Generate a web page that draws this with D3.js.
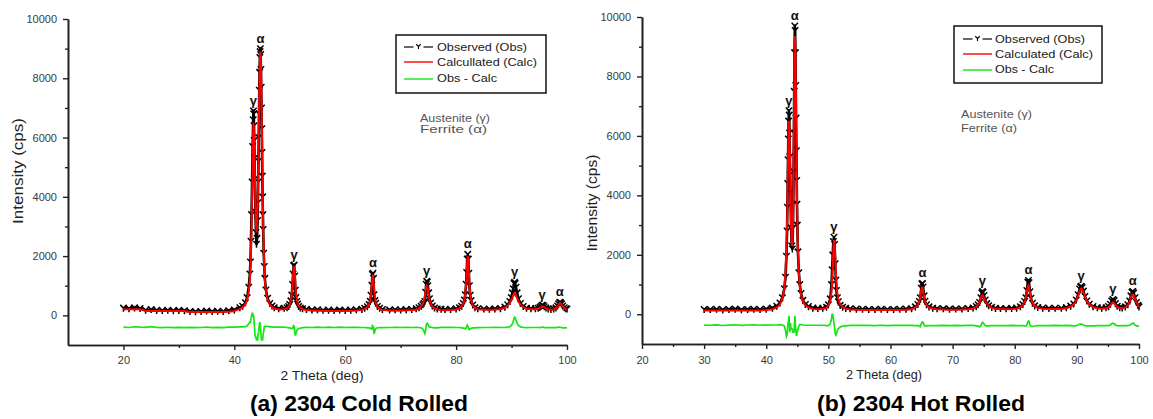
<!DOCTYPE html>
<html>
<head>
<meta charset="utf-8">
<script src="https://cdn.jsdelivr.net/npm/d3@7"></script>
<style>
  body { margin: 0; background: #fff; }
  svg { display: block; }
  text { font-family: "Liberation Sans", Arial, sans-serif; }
</style>
</head>
<body>
<svg id="chart" width="1153" height="419"></svg>
<script>
// Rietveld refinement of 2304 duplex stainless steel: [2θ (deg), observed (cps), calculated (cps)]
const coldScan = [
  [20,245,210],[21,230,210],[22,255,210],[23,235,205],[24,175,150],[25,200,150],[26,170,148],[27,165,148],
  [28,175,146],[29,160,146],[30,170,145],[31,160,145],[32,135,110],[33,125,110],[34,130,110],[35,150,112],
  [36,130,112],[37,140,114],[38,135,118],[39,160,125],[40,185,150],[41,260,220],
  [41.5,310,270],[42,430,380],[42.3,600,520],[42.6,950,800],[42.8,1400,1200],[42.9,1800,1600],[43,2500,2200],
  [43.1,3400,3000],[43.2,4500,4000],[43.3,5700,5200],[43.4,6600,6200],[43.45,6900,6500],[43.5,6800,6400],
  [43.55,6400,6150],[43.6,5900,5800],[43.65,5300,5300],[43.7,4600,4800],[43.8,3500,3800],[43.9,2800,3100],
  [44,2400,2800],[44.1,2600,3000],[44.2,3200,3600],[44.25,3800,4100],[44.3,4500,4700],[44.35,5200,5400],
  [44.4,6000,6100],[44.45,6800,6800],[44.5,7600,7500],[44.55,8200,8050],[44.6,8700,8500],[44.65,8900,8800],
  [44.7,9000,8900],[44.75,8800,8850],[44.8,8300,8500],[44.85,7700,8000],[44.9,7000,7400],[44.95,6300,6700],
  [45,5500,5900],[45.05,4700,5100],[45.1,4000,4400],[45.15,3400,3700],[45.2,2900,3100],[45.3,2100,2200],
  [45.4,1650,1600],[45.5,1250,1200],[45.7,860,800],[46,580,520],[46.4,400,360],[46.8,320,280],[47.2,260,230],
  [48,230,200],[49,240,210],
  [49.5,260,240],[49.8,300,290],[50,370,360],[50.2,490,500],[50.35,690,700],[50.5,1040,1050],[50.6,1400,1350],
  [50.7,1680,1600],[50.8,1700,1650],[50.9,1330,1450],[51,850,1100],[51.1,600,800],[51.25,470,560],
  [51.4,380,420],[51.6,300,320],[51.9,250,250],[52.3,225,210],
  [53,205,180],[54,185,165],[55,190,160],[56,175,155],[57,180,150],[58,170,150],[59,185,150],[60,170,150],
  [61,180,155],[62,190,165],[63,205,185],
  [63.5,240,220],[64,290,280],[64.3,370,360],[64.5,480,480],[64.65,680,700],[64.8,1020,1050],[64.9,1380,1300],
  [65,1420,1370],[65.1,1250,1200],[65.2,700,900],[65.35,500,600],[65.5,410,420],[65.8,300,290],[66.2,240,220],
  [66.7,200,185],
  [68,185,165],[69,190,165],[70,185,165],[71,195,170],[72,200,180],[72.8,225,200],
  [73.3,260,240],[73.7,310,300],[74,360,390],[74.2,400,500],[74.35,470,650],[74.5,780,850],[74.6,1050,960],
  [74.7,1150,1000],[74.8,1130,970],[74.9,1000,870],[75.05,760,690],[75.2,560,530],[75.4,420,390],
  [75.7,320,300],[76.1,250,240],[76.6,215,205],
  [77.3,210,185],[78,200,175],[79,205,180],[80,220,200],
  [80.6,260,240],[81,310,300],[81.3,400,400],[81.5,520,530],[81.65,700,720],[81.8,1050,1050],[81.9,1450,1400],
  [82,1900,1800],[82.1,2060,2000],[82.2,1900,1850],[82.3,1420,1450],[82.4,1000,1050],[82.55,680,700],
  [82.7,500,510],[83,350,340],[83.4,260,250],[83.9,225,210],
  [85,215,195],[86,210,190],[87,220,195],[88,230,210],
  [88.8,280,260],[89.3,360,330],[89.7,470,420],[89.95,600,510],[90.15,760,600],[90.3,900,680],[90.45,1080,740],
  [90.55,1120,750],[90.65,1080,730],[90.8,950,680],[91,760,580],[91.25,560,470],[91.6,400,360],[92.1,300,280],
  [92.7,240,225],
  [93.5,230,210],[94.3,225,205],
  [94.8,240,220],[95.1,265,250],[95.3,300,280],[95.5,340,305],[95.7,335,300],[95.9,290,275],[96.2,250,235],
  [96.6,220,205],[97.1,205,190],[97.6,215,200],
  [98,255,240],[98.3,320,300],[98.5,390,360],[98.7,440,410],[98.85,430,405],[99,390,370],[99.2,320,310],
  [99.5,260,250],[99.8,225,215],[100,215,200]
];

const hotScan = [
  [30,165,130],[31,160,130],[32,170,128],[33,150,128],[34,165,127],[35,175,127],[36,155,126],[37,165,126],
  [38,170,127],[39,160,130],[40,175,140],[41,210,170],[41.7,270,230],
  [42.2,380,330],[42.6,560,520],[42.9,860,850],[43.1,1250,1400],[43.25,1950,2300],[43.35,2800,3100],
  [43.4,3600,3800],[43.45,4400,4400],[43.5,5200,5100],[43.55,5900,5800],[43.6,6500,6300],[43.65,6850,6500],
  [43.7,6700,6450],[43.75,6100,6100],[43.8,5300,5500],[43.85,4700,4700],[43.9,4100,4000],[44,2900,3000],
  [44.1,2300,2400],[44.2,2200,2300],[44.3,2900,3100],[44.35,3700,3900],[44.4,4800,5000],[44.45,6100,6300],
  [44.5,7500,7600],[44.55,8800,8700],[44.6,9700,9350],[44.65,9550,9300],[44.7,8800,8800],[44.75,7700,7800],
  [44.8,6600,6800],[44.85,5500,5800],[44.9,4500,4800],[44.95,3700,3900],[45,3000,3200],[45.1,2100,2200],
  [45.25,1400,1400],[45.4,1000,950],[45.6,700,650],[45.9,470,430],[46.3,330,300],[46.8,260,230],[47.5,210,180],
  [48.3,200,170],[49.1,205,175],[49.7,240,220],
  [50,320,300],[50.3,520,450],[50.5,1000,750],[50.6,1500,1100],[50.7,2000,1600],[50.8,2450,2200],
  [50.9,2590,2500],[51,2350,2400],[51.1,1700,1950],[51.2,1150,1450],[51.3,800,1050],[51.45,560,700],
  [51.6,420,500],[51.9,300,330],[52.3,240,240],[52.8,200,190],
  [53.5,185,160],[54.5,175,150],[55.5,170,145],[56.5,165,140],[57.5,160,140],[58.5,170,140],[59.5,160,140],
  [60.5,165,140],[61.5,170,145],[62.5,175,150],[63.4,190,165],
  [64,250,230],[64.4,330,310],[64.65,430,430],[64.8,560,580],[64.95,880,800],[65.05,1020,890],[65.15,1040,900],
  [65.25,920,790],[65.4,620,580],[65.55,440,430],[65.8,320,310],[66.2,250,230],[66.8,205,185],
  [67.5,190,170],[68.5,185,160],[69.5,175,155],[70.5,180,155],[71.5,180,160],[72.5,195,170],[73.3,215,190],
  [73.8,260,250],[74.1,320,320],[74.35,400,420],[74.55,560,550],[74.7,720,630],[74.8,770,640],[74.9,740,620],
  [75.05,630,560],[75.25,480,460],[75.5,360,360],[75.8,290,280],[76.3,235,220],[76.9,200,185],
  [77.7,195,175],[78.6,190,170],[79.5,200,175],[80.3,210,190],
  [80.9,255,240],[81.3,330,310],[81.6,430,420],[81.8,560,560],[81.95,800,760],[82.1,1080,940],[82.2,1140,970],
  [82.3,1060,900],[82.45,760,720],[82.6,540,540],[82.85,370,380],[83.2,285,280],[83.7,230,215],
  [84.5,210,190],[85.5,200,180],[86.5,205,180],[87.5,205,185],[88.3,225,200],
  [89,275,260],[89.5,350,340],[89.9,480,460],[90.2,660,620],[90.45,850,780],[90.6,920,850],[90.7,940,870],
  [90.85,900,840],[91.05,780,740],[91.3,600,580],[91.6,450,440],[92,340,330],[92.6,260,250],[93.3,220,205],
  [94,210,190],[94.7,220,200],
  [95.1,260,240],[95.4,340,300],[95.6,450,370],[95.8,500,400],[96,460,380],[96.2,360,320],[96.5,270,250],
  [96.9,220,210],[97.3,215,200],[97.8,250,230],
  [98.2,320,300],[98.5,450,420],[98.7,620,560],[98.85,740,650],[99,770,670],[99.15,720,630],[99.35,560,520],
  [99.6,400,390],[99.85,300,300],[100,250,240]
];

// Indexed reflections: austenite (γ) and ferrite (α)
const coldPeakTheta = [43.45, 44.7, 50.8, 65.0, 74.7, 82.1, 90.55, 95.5, 98.7];
const coldPeakPhase = ["γ", "α", "γ", "α", "γ", "α", "γ", "γ", "α"];
const hotPeakTheta  = [43.65, 44.6, 50.9, 65.15, 74.8, 82.2, 90.7, 95.8, 99.0];
const hotPeakPhase  = ["γ", "α", "γ", "α", "γ", "α", "γ", "γ", "α"];

// Axis ticks
const yMajorTicks = [0, 2000, 4000, 6000, 8000, 10000];
const yMinorTicks = [1000, 3000, 5000, 7000, 9000];
const coldXMajor = [20, 40, 60, 80, 100];
const coldXMinor = [30, 50, 70, 90];
const hotXMajor = [20, 30, 40, 50, 60, 70, 80, 90, 100];
const hotXMinor = [25, 35, 45, 55, 65, 75, 85, 95];

// Text
const coldLegend = ["Observed (Obs)", "Calcullated (Calc)", "Obs - Calc"];
const hotLegend  = ["Observed (Obs)", "Calculated (Calc)", "Obs - Calc"];
const phaseNotes = ["Austenite (γ)", "Ferrite (α)"];
const panelTitles = ["(a) 2304 Cold Rolled", "(b) 2304 Hot Rolled"];
const xTitle = "2 Theta (deg)";
const yTitle = "Intensity (cps)";

// Vertical shift applied to the difference curve
const coldDiffShift = -430;
const hotDiffShift = -400;

const svg = d3.select("#chart");
svg.append("rect").attr("width", 1153).attr("height", 419).attr("fill", "#fff");

const panels = [
  {
    scan: coldScan, peaks: coldPeakTheta, phases: coldPeakPhase, legend: coldLegend, title: panelTitles[0],
    diffShift: coldDiffShift, xDomain: [10, 100], xMajor: coldXMajor, xMinor: coldXMinor,
    left: 68, right: 567, top: 19, bottom: 345, xLabelPad: 6,
    legendBox: { x: 396, y: 35, w: 150, h: 58 }, legendRows: [47, 62, 79], legendBase: [51, 66, 82],
    legendLine: [404, 433], legendTextX: 437, legendWidths: [90, 100, 60],
    notesX: 420, notesBase: [122, 133], notesWidths: [70, 67],
    yTitleX: 23, yTitleCy: 171, yTitleLen: 106,
    xTitleCx: 322, xTitleBase: 380, xTitleLen: 83,
    titleCx: 359, titleBase: 411, titleLen: 218
  },
  {
    scan: hotScan, peaks: hotPeakTheta, phases: hotPeakPhase, legend: hotLegend, title: panelTitles[1],
    diffShift: hotDiffShift, xDomain: [20, 100], xMajor: hotXMajor, xMinor: hotXMinor,
    left: 642, right: 1139, top: 17, bottom: 344, xLabelPad: 7,
    legendBox: { x: 954, y: 26, w: 148, h: 57 }, legendRows: [39, 54, 70], legendBase: [43, 58, 73],
    legendLine: [963, 992], legendTextX: 995, legendWidths: [90, 98, 59],
    notesX: 961, notesBase: [118, 132], notesWidths: [71, 56],
    yTitleX: 597, yTitleCy: 203, yTitleLen: 97,
    xTitleCx: 884, xTitleBase: 379, xTitleLen: 76,
    titleCx: 921, titleBase: 411, titleLen: 208
  }
];

// "Y"-shaped marker used for observed points
const markerPath = "M-3.2,-3.2L0,0L3.2,-3.2M0,0L0,3.6";

function drawPanel(p) {
  const x = d3.scaleLinear().domain(p.xDomain).range([p.left, p.right]);
  const y = d3.scaleLinear().domain([-1000, 10000]).range([p.bottom, p.top]);
  const g = svg.append("g");

  // Observed: connecting line + markers
  const obsLine = d3.line().x(d => x(d[0])).y(d => y(d[1]));
  g.append("path").datum(p.scan).attr("d", obsLine)
    .attr("fill", "none").attr("stroke", "#000").attr("stroke-width", 2.6)
    .attr("stroke-linejoin", "round");
  g.append("g").selectAll("path").data(p.scan).join("path")
    .attr("transform", d => `translate(${x(d[0])},${y(d[1])})`)
    .attr("d", markerPath).attr("fill", "none").attr("stroke", "#000").attr("stroke-width", 1.5);

  // Calculated profile
  const calcLine = d3.line().x(d => x(d[0])).y(d => y(d[2]));
  g.append("path").datum(p.scan).attr("d", calcLine)
    .attr("fill", "none").attr("stroke", "#ff0000").attr("stroke-width", 2);

  // Difference curve (Obs - Calc), shifted below the baseline
  const diffLine = d3.line().x(d => x(d[0])).y(d => y(p.diffShift + d[1] - d[2]));
  g.append("path").datum(p.scan).attr("d", diffLine)
    .attr("fill", "none").attr("stroke", "#14e614").attr("stroke-width", 1.7);

  // Reflection labels above each peak
  p.peaks.forEach((t, i) => {
    const near = p.scan.filter(d => Math.abs(d[0] - t) <= 0.25);
    const top = d3.max(near, d => d[1]);
    g.append("text").attr("x", x(t)).attr("y", y(top) - 6)
      .attr("text-anchor", "middle").attr("font-size", 13).attr("font-weight", "bold")
      .attr("font-family", "Liberation Serif, serif").attr("fill", "#111")
      .text(p.phases[i]);
  });

  // Axes
  const axisColor = "#222";
  const styleAxis = sel => {
    sel.select(".domain").attr("stroke", axisColor).attr("stroke-width", 1.6);
    sel.selectAll(".tick line").attr("stroke", axisColor).attr("stroke-width", 1.4);
    sel.selectAll(".tick text").attr("fill", "#3a3a3a").attr("font-size", 11)
      .attr("font-family", "Liberation Sans, Arial, sans-serif");
  };
  g.append("g").attr("transform", `translate(0,${p.bottom})`)
    .call(d3.axisBottom(x).tickValues(p.xMajor).tickSize(5).tickPadding(p.xLabelPad)
      .tickSizeOuter(0).tickFormat(d3.format("d")))
    .call(styleAxis);
  g.append("g").attr("transform", `translate(0,${p.bottom})`)
    .call(d3.axisBottom(x).tickValues(p.xMinor).tickSize(3).tickSizeOuter(0).tickFormat(""))
    .call(styleAxis);
  g.append("g").attr("transform", `translate(${p.left},0)`)
    .call(d3.axisLeft(y).tickValues(yMajorTicks).tickSize(5).tickPadding(6)
      .tickSizeOuter(0).tickFormat(d3.format("d")))
    .call(styleAxis);
  g.append("g").attr("transform", `translate(${p.left},0)`)
    .call(d3.axisLeft(y).tickValues(yMinorTicks).tickSize(3).tickSizeOuter(0).tickFormat(""))
    .call(styleAxis);

  // Axis titles
  g.append("text").attr("x", p.xTitleCx).attr("y", p.xTitleBase).attr("text-anchor", "middle")
    .attr("font-size", 12).attr("fill", "#222")
    .attr("textLength", p.xTitleLen).attr("lengthAdjust", "spacingAndGlyphs").text(xTitle);
  g.append("text").attr("transform", `translate(${p.yTitleX},${p.yTitleCy}) rotate(-90)`)
    .attr("text-anchor", "middle").attr("font-size", 14).attr("fill", "#222")
    .attr("textLength", p.yTitleLen).attr("lengthAdjust", "spacingAndGlyphs").text(yTitle);

  // Legend
  const lb = p.legendBox;
  g.append("rect").attr("x", lb.x).attr("y", lb.y).attr("width", lb.w).attr("height", lb.h)
    .attr("fill", "#fff").attr("stroke", "#111").attr("stroke-width", 1.5);
  const [lx0, lx1] = p.legendLine;
  const lmid = (lx0 + lx1) / 2;
  g.append("line").attr("x1", lx0).attr("x2", lmid - 5).attr("y1", p.legendRows[0]).attr("y2", p.legendRows[0])
    .attr("stroke", "#000").attr("stroke-width", 1.2);
  g.append("line").attr("x1", lmid + 5).attr("x2", lx1).attr("y1", p.legendRows[0]).attr("y2", p.legendRows[0])
    .attr("stroke", "#000").attr("stroke-width", 1.2);
  g.append("path").attr("transform", `translate(${lmid},${p.legendRows[0] - 0.5}) scale(0.7)`)
    .attr("d", markerPath).attr("fill", "none").attr("stroke", "#000").attr("stroke-width", 1.6);
  g.append("line").attr("x1", lx0).attr("x2", lx1).attr("y1", p.legendRows[1]).attr("y2", p.legendRows[1])
    .attr("stroke", "#ff0000").attr("stroke-width", 1.4);
  g.append("line").attr("x1", lx0).attr("x2", lx1).attr("y1", p.legendRows[2]).attr("y2", p.legendRows[2])
    .attr("stroke", "#14e614").attr("stroke-width", 1.4);
  p.legend.forEach((label, i) => {
    g.append("text").attr("x", p.legendTextX).attr("y", p.legendBase[i])
      .attr("font-size", 11).attr("fill", "#1a1a1a")
      .attr("textLength", p.legendWidths[i]).attr("lengthAdjust", "spacingAndGlyphs").text(label);
  });

  // Phase notes
  phaseNotes.forEach((note, i) => {
    g.append("text").attr("x", p.notesX).attr("y", p.notesBase[i])
      .attr("font-size", 10.5).attr("fill", "#555")
      .attr("textLength", p.notesWidths[i]).attr("lengthAdjust", "spacingAndGlyphs").text(note);
  });

  // Panel caption
  g.append("text").attr("x", p.titleCx).attr("y", p.titleBase).attr("text-anchor", "middle")
    .attr("font-size", 22).attr("font-weight", "bold").attr("fill", "#000")
    .attr("textLength", p.titleLen).attr("lengthAdjust", "spacingAndGlyphs").text(p.title);
}

panels.forEach(drawPanel);
</script>
</body>
</html>
